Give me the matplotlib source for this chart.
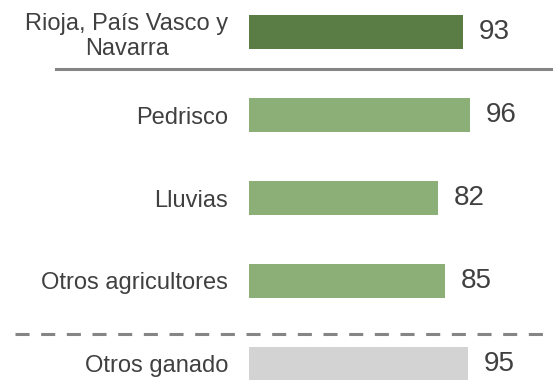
import matplotlib
matplotlib.use("Agg")
import matplotlib.pyplot as plt

categories = ["Rioja, País Vasco y\nNavarra", "Pedrisco", "Lluvias",
              "Otros agricultores", "Otros ganado"]
values = [93, 96, 82, 85, 95]
colors = ["#5a7d45", "#8caf77", "#8caf77", "#8caf77", "#d3d3d3"]

text_color = "#404040"
plt.rcParams["font.family"] = ["Liberation Sans", "DejaVu Sans"]

fig = plt.figure(figsize=(5.53, 3.80), dpi=100)
ax = fig.add_axes([249 / 553, 0, 304 / 553, 1])

pos = list(range(len(categories)))
bars = ax.barh(pos, values, height=0.41, color=colors)

ax.set_xlim(0, 304 / 2.302)
ax.set_ylim(4.193, -0.386)

ax.set_yticks(pos)
ax.set_yticklabels(categories, fontsize=17, color=text_color,
                   multialignment="center")
ax.tick_params(axis="y", length=0, pad=15)
ax.set_xticks([])
for s in ax.spines.values():
    s.set_visible(False)

for b, v in zip(bars, values):
    ax.annotate(f"{v}", (b.get_width(), b.get_y() + b.get_height() / 2),
                xytext=(11.5, 0), textcoords="offset points",
                ha="left", va="center", fontsize=20, color=text_color)

# separators: solid under the regional group, dashed before livestock
ax.axhline(0.446, xmin=(56 - 249) / 304, xmax=1, color="#858585",
           lw=2.2, clip_on=False)
ax.axhline(3.639, xmin=(15 - 249) / 304, xmax=1, color="#858585",
           lw=2.2, clip_on=False, linestyle=(0, (4.6, 3.8)))

fig.savefig("out.png", dpi=100)
